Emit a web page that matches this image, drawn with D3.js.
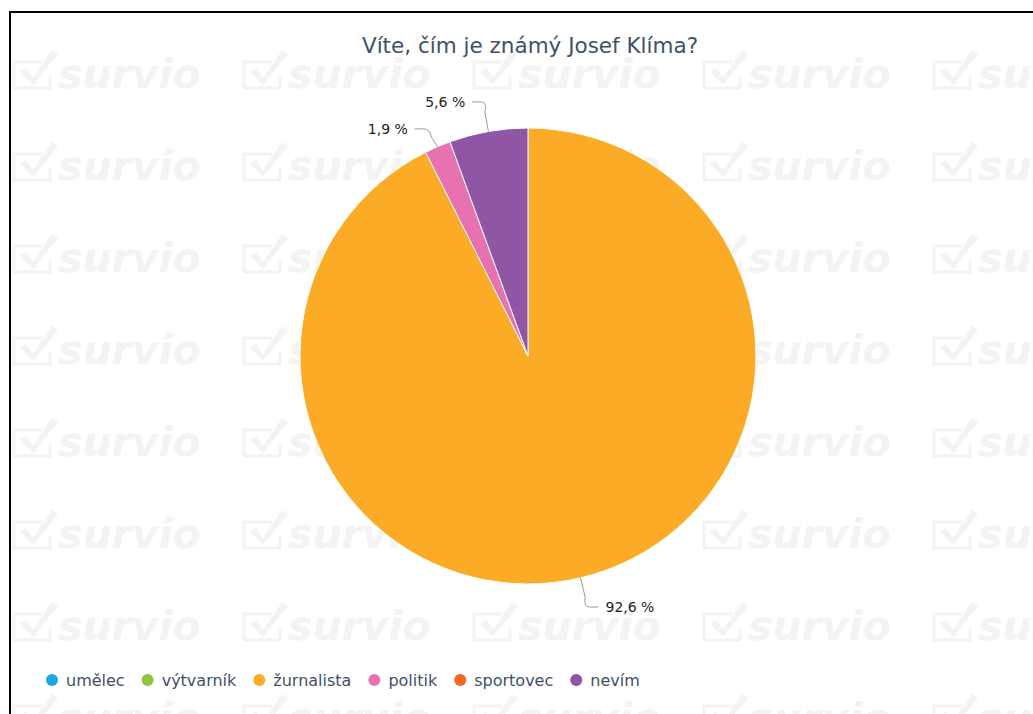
<!DOCTYPE html>
<html>
<head>
<meta charset="utf-8">
<script src="https://cdn.jsdelivr.net/npm/d3@7"></script>
<style>
	body { margin: 0; background: #fff; }
	svg { display: block; font-family: "DejaVu Sans", sans-serif; }
</style>
</head>
<body>
<svg id="chart"></svg>
<script>
const width = 1033;
const height = 714;
const titleText = 'Víte, čím je známý Josef Klíma?';
const categories = ['umělec', 'výtvarník', 'žurnalista', 'politik', 'sportovec', 'nevím'];
const counts = [0, 0, 50, 1, 0, 3];
const colors = ['#1ea8e1', '#8dc63f', '#fbab25', '#e872b0', '#f26822', '#8e56a4'];

const cx = 528;
const cy = 356;
const radius = 228;
const labelDistance = 30;

var svg = d3.select('#chart').attr('width', width).attr('height', height);

// watermark tiles
var wm = svg.append('g').attr('fill', '#f3f3f3').attr('stroke', '#f3f3f3');
for (var row = 0; row < 8; row++) {
	for (var col = 0; col < 5; col++) {
		var tx = 12 + col * 230;
		var ty = 88 + row * 92;
		var t = wm.append('g').attr('transform', 'translate(' + tx + ',' + ty + ')');
		t.append('path')
			.attr('d', 'M30,-26 H2 V0 H38 V-12')
			.attr('fill', 'none').attr('stroke-width', 3);
		t.append('path')
			.attr('d', 'M8,-16 L14,-20 L21,-10 L40,-38 L46,-34 L21,-3 Z')
			.attr('stroke', 'none');
		t.append('text')
			.attr('x', 46).attr('y', 0)
			.attr('stroke', 'none')
			.style('font-size', '41px').style('font-weight', 'bold').style('font-style', 'italic')
			.text('survio');
	}
}

// frame
svg.append('rect')
	.attr('x', 10).attr('y', 12).attr('width', 1200).attr('height', 900)
	.attr('fill', 'none').attr('stroke', '#000').attr('stroke-width', 2);

// title
svg.append('text')
	.attr('x', cx + 2).attr('y', 53)
	.attr('text-anchor', 'middle')
	.attr('fill', '#3e5167')
	.style('font-size', '21.5px')
	.text(titleText);

var data = categories.map((c, i) => ({ name: c, value: counts[i], color: colors[i] }));
var total = d3.sum(counts);

var pie = d3.pie().sort(null).value(d => d.value);
var arcs = pie(data);
var arc = d3.arc().innerRadius(0).outerRadius(radius);

var g = svg.append('g').attr('transform', 'translate(' + cx + ',' + cy + ')');

g.selectAll('path.slice')
	.data(arcs.filter(d => d.value > 0)).enter().append('path')
	.classed('slice', true)
	.attr('d', arc)
	.attr('fill', d => d.data.color)
	.attr('stroke', '#fff').attr('stroke-width', 1).attr('stroke-linejoin', 'round');

// data labels with connectors
var fmt = d3.format('.1f');
var labels = arcs.filter(d => d.value > 0).map(d => {
	var a = (d.startAngle + d.endAngle) / 2;
	var s = Math.sin(a), c = Math.cos(a);
	return {
		text: fmt(d.value / total * 100).replace('.', ',') + ' %',
		side: s >= 0 ? 1 : -1,
		ex: radius * s, ey: -radius * c,
		bx: (radius + labelDistance) * s,
		by: -(radius + labelDistance) * c
	};
});

// push apart labels on the same side that are too close
[-1, 1].forEach(side => {
	var list = labels.filter(l => l.side === side).sort((a, b) => a.by - b.by);
	for (var i = 1; i < list.length; i++) {
		if (list[i].by - list[i - 1].by < 27) list[i].by = list[i - 1].by + 27;
	}
});

var lg = g.append('g');
labels.forEach(l => {
	var tx = l.bx + l.side * 18;
	var dx = l.ex - l.bx, dy = l.ey - l.by;
	var len = Math.sqrt(dx * dx + dy * dy);
	var px = l.bx + dx / len * 10, py = l.by + dy / len * 10;
	lg.append('path')
		.attr('d', 'M' + (tx - l.side * 7) + ',' + l.by +
			' L' + (l.bx + l.side * 2) + ',' + l.by +
			' Q' + (l.bx - l.side * 4) + ',' + l.by + ' ' + px + ',' + py +
			' L' + l.ex + ',' + l.ey)
		.attr('fill', 'none').attr('stroke', '#999').attr('stroke-width', 1);
	lg.append('text')
		.attr('x', tx).attr('y', l.by)
		.attr('dy', '0.35em')
		.attr('text-anchor', l.side > 0 ? 'start' : 'end')
		.attr('fill', '#222')
		.style('font-size', '14px')
		.text(l.text);
});

// legend
var legend = svg.append('g').attr('transform', 'translate(52,680)');
var lx = 0;
data.forEach(d => {
	var item = legend.append('g').attr('transform', 'translate(' + lx + ',0)');
	item.append('circle').attr('r', 6).attr('fill', d.color);
	var txt = item.append('text')
		.attr('x', 14).attr('dy', '0.35em')
		.attr('fill', '#3e5167')
		.style('font-size', '16px')
		.text(d.name);
	lx += 14 + txt.node().getComputedTextLength() + 23;
});
</script>
</body>
</html>
